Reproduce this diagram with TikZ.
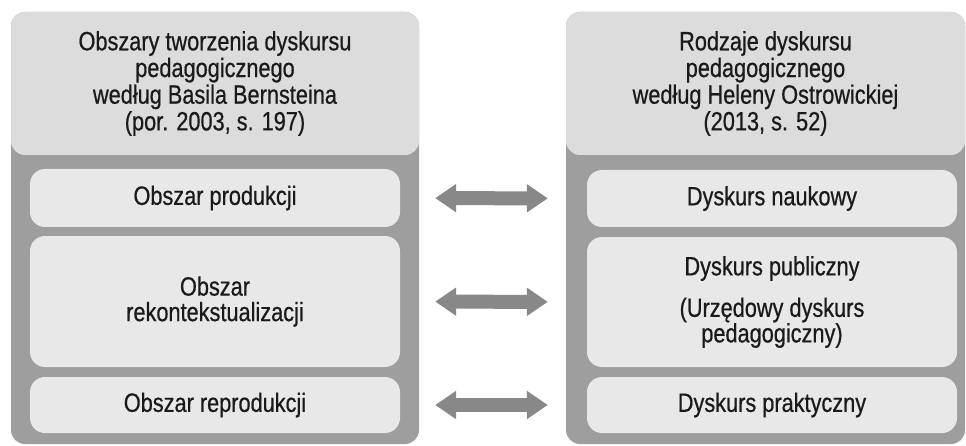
\documentclass[tikz,border=0pt]{standalone}
\usepackage{fontspec}
\setmainfont[FakeStretch=0.82,FakeBold=0.6]{Liberation Sans}
\usetikzlibrary{arrows.meta}
\definecolor{outergray}{HTML}{9E9E9E}
\definecolor{headgray}{HTML}{DCDCDC}
\definecolor{innergray}{HTML}{E8E8E8}
\definecolor{arrowgray}{HTML}{888888}
\definecolor{txt}{HTML}{1A1A1A}
\tikzset{
  outerbox/.style={fill=outergray, rounded corners=14pt, inner sep=0pt, minimum width=#1, minimum height=432pt},
  headbox/.style={fill=headgray, rounded corners=14pt, inner sep=0pt, minimum width=#1, minimum height=143pt,
    align=center, text=txt, font=\fontsize{26.5}{26.7}\selectfont},
  innerbox/.style={fill=innergray, rounded corners=15pt, inner sep=0pt, minimum width=370pt,
    align=center, text=txt, font=\fontsize{26.5}{25.5}\selectfont},
  fatarrow/.style={draw=arrowgray, line width=14pt,
    {Triangle[width=27pt,length=21pt]}-{Triangle[width=27pt,length=21pt]},
    shorten <=35pt, shorten >=39pt}
}
\begin{document}
\begin{tikzpicture}[x=1pt,y=1pt]
\useasboundingbox (0,0) rectangle (966,445);
% left column
\node[outerbox=408pt] (L) at (215,217) {};
\node[headbox=408pt] (LH) at (215,361.5) {Obszary tworzenia dyskursu\\pedagogicznego\\według Basila Bernsteina\\(por. 2003, s. 197)};
\node[innerbox, minimum height=58pt] (prod) at (215,247) {Obszar produkcji};
\node[innerbox, minimum height=131pt] (rek) at (215,143.5) {Obszar\\rekontekstualizacji};
\node[innerbox, minimum height=56pt] (repr) at (215,40) {Obszar reprodukcji};
% right column
\node[outerbox=399pt] (R) at (765.5,217) {};
\node[headbox=399pt] (RH) at (765.5,361.5) {Rodzaje dyskursu\\pedagogicznego\\według Heleny Ostrowickiej\\(2013, s. 52)};
\node[innerbox, minimum height=57pt] (nauk) at (772,246.5) {Dyskurs naukowy};
\node[innerbox, minimum height=130pt] (publ) at (772,143) {Dyskurs publiczny\\[16pt](Urzędowy dyskurs\\pedagogiczny)};
\node[innerbox, minimum height=56pt] (prak) at (772,40) {Dyskurs praktyczny};
% arrows
\draw[fatarrow] (prod.east) -- (nauk.west);
\draw[fatarrow] (rek.east) -- (publ.west);
\draw[fatarrow] (repr.east) -- (prak.west);
\end{tikzpicture}
\end{document}
